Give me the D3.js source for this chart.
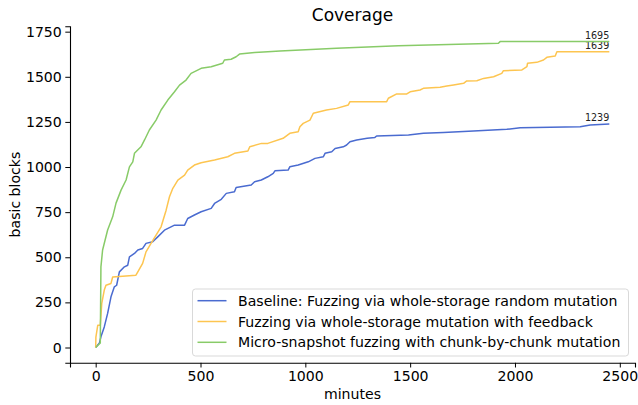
<!DOCTYPE html>
<html>
<head>
<meta charset="utf-8">
<script src="https://cdn.jsdelivr.net/npm/d3@7"></script>
<style>
  body { margin: 0; background: #fff; }
  svg { display: block; font-family: "DejaVu Sans", sans-serif; }
</style>
</head>
<body>
<svg width="638" height="405"></svg>
<script>
// coverage data, [minutes, basic blocks]
var baseline = [
  [0, 0], [18, 25], [25, 59], [41, 114], [57, 189], [73, 281], [89, 336], [100, 345],
  [113, 419], [137, 447], [153, 456], [161, 502], [185, 521], [201, 540], [224, 549],
  [240, 577], [272, 586], [296, 613], [328, 650], [376, 678], [424, 678], [439, 715],
  [471, 734], [503, 752], [551, 771], [567, 798], [599, 821], [623, 854], [662, 863],
  [670, 887], [742, 900], [758, 918], [790, 928], [821, 946], [847, 965], [855, 979],
  [918, 983], [926, 1001], [966, 1011], [1014, 1029], [1046, 1048], [1086, 1057],
  [1094, 1076], [1126, 1085], [1142, 1103], [1181, 1112], [1197, 1122], [1213, 1140],
  [1245, 1150], [1295, 1159], [1332, 1164], [1340, 1172], [1492, 1177], [1563, 1187],
  [1659, 1192], [1802, 1199], [1961, 1209], [2025, 1218], [2311, 1223], [2359, 1233],
  [2450, 1239]
];

var feedback = [
  [0, 0], [1, 58], [10, 124], [22, 124], [29, 244], [41, 318], [49, 345], [73, 355],
  [81, 391], [192, 401], [201, 419], [224, 466], [240, 530], [264, 577], [288, 623],
  [312, 669], [336, 761], [352, 835], [368, 882], [392, 928], [424, 955], [439, 983],
  [471, 1011], [503, 1024], [567, 1039], [630, 1057], [662, 1076], [726, 1089],
  [735, 1112], [791, 1131], [821, 1131], [894, 1159], [926, 1187], [966, 1196],
  [974, 1223], [990, 1242], [1022, 1260], [1038, 1298], [1101, 1316], [1149, 1325],
  [1205, 1344], [1213, 1362], [1388, 1362], [1396, 1381], [1436, 1405], [1484, 1405],
  [1500, 1417], [1547, 1427], [1563, 1436], [1643, 1442], [1675, 1449], [1707, 1455],
  [1755, 1464], [1770, 1477], [1818, 1478], [1850, 1491], [1898, 1500], [1937, 1519],
  [1945, 1534], [2033, 1538], [2057, 1556], [2060, 1575], [2104, 1580], [2136, 1593],
  [2152, 1608], [2192, 1615], [2200, 1639], [2450, 1639]
];

var microSnapshot = [
  [0, 0], [22, 25], [25, 447], [33, 540], [57, 651], [81, 724], [97, 800], [121, 872],
  [145, 928], [161, 1001], [177, 1029], [185, 1076], [216, 1112], [233, 1150],
  [256, 1205], [288, 1260], [312, 1316], [344, 1371], [376, 1417], [400, 1454],
  [431, 1482], [455, 1519], [503, 1547], [551, 1556], [606, 1575], [614, 1593],
  [646, 1597], [670, 1611], [686, 1626], [758, 1634], [821, 1639], [879, 1643],
  [1149, 1658], [1444, 1672], [1921, 1686], [1929, 1695], [2450, 1695]
];

var seriesNames = [
  "Baseline: Fuzzing via whole-storage random mutation",
  "Fuzzing via whole-storage mutation with feedback",
  "Micro-snapshot fuzzing with chunk-by-chunk mutation"
];
var seriesColors = ["#4a6bd0", "#fdc550", "#88cb68"];
var xTicks = [0, 500, 1000, 1500, 2000, 2500];
var yTicks = [0, 250, 500, 750, 1000, 1250, 1500, 1750];

var allSeries = [baseline, feedback, microSnapshot];

var width = 638;
var height = 405;
var margin = { top: 26.3, bottom: 42.2, left: 70, right: 3 };
var fontSize = "14.1px";

var svg = d3.select("svg");

// matplotlib style 5% padding on both axes
var xMax = d3.max(allSeries, function (s) { return d3.max(s, function (d) { return d[0]; }); });
var yMax = d3.max(allSeries, function (s) { return d3.max(s, function (d) { return d[1]; }); });

var x = d3.scaleLinear()
    .domain([-0.05 * xMax, xMax * 1.05])
    .range([margin.left, width - margin.right]);
var y = d3.scaleLinear()
    .domain([-0.05 * yMax, yMax * 1.05])
    .range([height - margin.bottom, margin.top]);

// title
svg.append("text")
    .attr("x", (margin.left + width - margin.right) / 2)
    .attr("y", 21)
    .attr("text-anchor", "middle")
    .style("font-size", "17px")
    .text("Coverage");

// lines
var line = d3.line()
    .x(function (d) { return x(d[0]); })
    .y(function (d) { return y(d[1]); });

allSeries.forEach(function (s, i) {
    svg.append("path")
        .datum(s)
        .attr("fill", "none")
        .attr("stroke", seriesColors[i])
        .attr("stroke-width", 1.5)
        .attr("stroke-linejoin", "round")
        .attr("d", line);

    // final value label
    var last = s[s.length - 1];
    svg.append("text")
        .attr("x", x(last[0]))
        .attr("y", y(last[1]) - 2.4)
        .attr("text-anchor", "end")
        .style("font-size", "9.6px")
        .attr("fill", "#222")
        .text(last[1]);
});

// axes
var xAxis = svg.append("g")
    .attr("transform", "translate(0," + (height - margin.bottom) + ")")
    .call(d3.axisBottom(x).tickValues(xTicks).tickFormat(d3.format("d"))
        .tickSizeOuter(0).tickSize(4.7).tickPadding(3.5));
var yAxis = svg.append("g")
    .attr("transform", "translate(" + margin.left + ",0)")
    .call(d3.axisLeft(y).tickValues(yTicks).tickFormat(d3.format("d"))
        .tickSizeOuter(0).tickSize(4.7).tickPadding(3.5));

[xAxis, yAxis].forEach(function (a) {
    a.selectAll("text").style("font-size", fontSize).attr("fill", "#000")
        .style("font-family", "DejaVu Sans, sans-serif");
    a.selectAll("line").attr("stroke", "#000").attr("stroke-width", 1);
    a.select(".domain").attr("stroke", "#000").attr("stroke-width", 1.1);
});

svg.append("text")
    .attr("x", (margin.left + width - margin.right) / 2)
    .attr("y", 399)
    .attr("text-anchor", "middle")
    .style("font-size", fontSize)
    .text("minutes");

svg.append("text")
    .attr("transform", "translate(20," + ((margin.top + height - margin.bottom) / 2) + ") rotate(-90)")
    .attr("text-anchor", "middle")
    .style("font-size", fontSize)
    .text("basic blocks");

// legend
var legend = svg.append("g").attr("transform", "translate(192.5,289)");
legend.append("rect")
    .attr("width", 436)
    .attr("height", 67)
    .attr("rx", 3)
    .attr("fill", "rgba(255,255,255,0.8)")
    .attr("stroke", "#d9d9d9")
    .attr("stroke-width", 1);

seriesNames.forEach(function (name, i) {
    var row = legend.append("g").attr("transform", "translate(0," + (11.7 + i * 20.8) + ")");
    row.append("line")
        .attr("x1", 5).attr("x2", 34)
        .attr("stroke", seriesColors[i])
        .attr("stroke-width", 1.5);
    row.append("text")
        .attr("x", 45.5)
        .attr("y", 5)
        .style("font-size", fontSize)
        .text(name);
});
</script>
</body>
</html>
